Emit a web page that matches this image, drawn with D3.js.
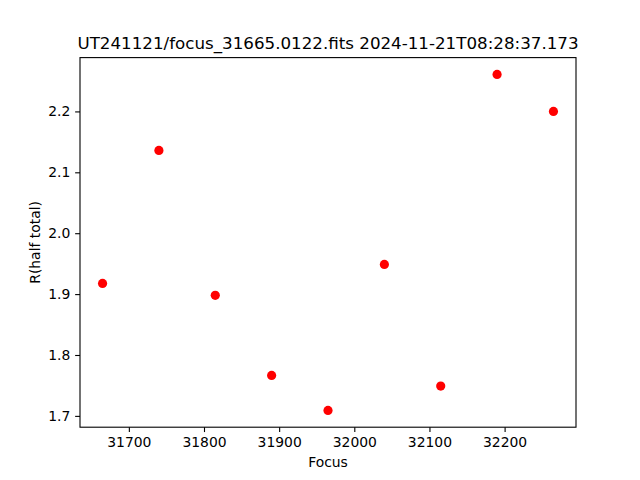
<!DOCTYPE html>
<html><head><meta charset="utf-8">
<script src="https://cdn.jsdelivr.net/npm/d3@7"></script>
<style>body{margin:0;background:#fff}svg{display:block}text{font-family:"DejaVu Sans",sans-serif;fill:#000}</style>
</head><body>
<script>
const focusValues = [31665, 31740, 31815, 31890, 31965, 32040, 32115, 32190, 32265];
const rHalfTotal = [1.9176, 2.136, 1.898, 1.7665, 1.709, 1.9488, 1.749, 2.2608, 2.200];
const xTicks = [31700, 31800, 31900, 32000, 32100, 32200];
const yTicks = [1.7, 1.8, 1.9, 2.0, 2.1, 2.2];
const titleText = "UT241121/focus_31665.0122.fits 2024-11-21T08:28:37.173";
const xLabel = "Focus", yLabel = "R(half total)";

const W = 640, H = 480;
const L = 80, R = 576, T = 57.6, B = 427.2;
const svg = d3.select("body").append("svg").attr("width", W).attr("height", H);

function pad(ext){const d=(ext[1]-ext[0])*0.05;return [ext[0]-d, ext[1]+d];}
const x = d3.scaleLinear().domain(pad(d3.extent(focusValues))).range([L, R]);
const y = d3.scaleLinear().domain(pad(d3.extent(rHalfTotal))).range([B, T]);

const xAxis = svg.append("g").attr("transform", `translate(0,${B})`)
  .call(d3.axisBottom(x).tickValues(xTicks).tickFormat(d3.format("d")).tickSizeInner(4.86).tickSizeOuter(0).tickPadding(4.86));
const yAxis = svg.append("g").attr("transform", `translate(${L},0)`)
  .call(d3.axisLeft(y).tickValues(yTicks).tickFormat(d3.format(".1f")).tickSizeInner(4.86).tickSizeOuter(0).tickPadding(4.86));
[xAxis, yAxis].forEach(g => {
  g.select(".domain").remove();
  g.selectAll(".tick line").attr("stroke", "#000").attr("stroke-width", 1.1);
  g.selectAll(".tick text").attr("font-size", 13.9).attr("font-family", "DejaVu Sans");
});

svg.append("rect").attr("x", L).attr("y", T).attr("width", R - L).attr("height", B - T)
  .attr("fill", "none").attr("stroke", "#000").attr("stroke-width", 1.1);

svg.append("g").selectAll("circle").data(focusValues).join("circle")
  .attr("cx", d => x(d)).attr("cy", (d, i) => y(rHalfTotal[i])).attr("r", 4.6).attr("fill", "#ff0000");

svg.append("text").attr("x", (L + R) / 2).attr("y", T - 8.3).attr("text-anchor", "middle")
  .attr("font-size", 16.7).text(titleText);
svg.append("text").attr("x", (L + R) / 2).attr("y", 467).attr("text-anchor", "middle")
  .attr("font-size", 13.9).text(xLabel);
svg.append("text").attr("transform", `translate(39.5,${(T + B) / 2}) rotate(-90)`).attr("text-anchor", "middle")
  .attr("font-size", 13.9).text(yLabel);
</script>
</body></html>
